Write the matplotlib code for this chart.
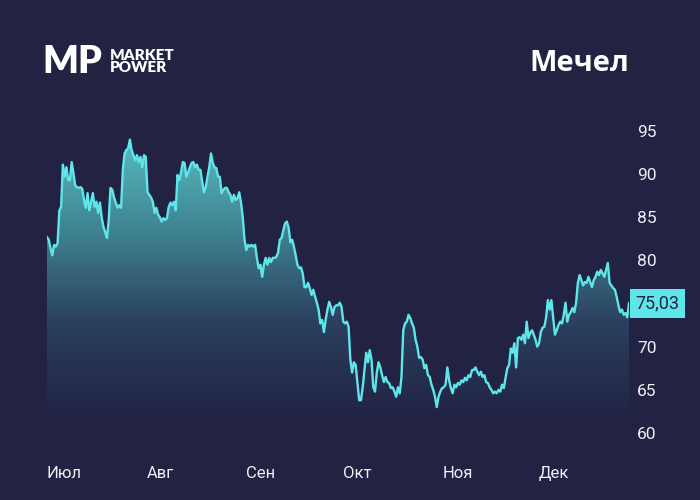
import numpy as np
import pandas as pd
import matplotlib
matplotlib.use("Agg")
import matplotlib.pyplot as plt
from matplotlib.colors import LinearSegmentedColormap

# ---- data ----
prices = [
    82.7, 82.4, 81.4, 80.6, 81.8, 81.6, 82.0, 85.8, 86.2, 91.1, 89.7, 90.8, 89.3, 89.3, 91.4, 90.1,
    88.7, 88.5, 88.4, 88.5, 88.3, 87.0, 86.1, 87.8, 85.8, 86.8, 87.8, 86.2, 86.8, 85.5, 86.7, 85.0,
    83.9, 83.3, 82.6, 84.7, 88.4, 88.2, 87.3, 86.7, 86.1, 86.4, 86.1, 90.5, 92.4, 92.8, 93.0, 94.0,
    92.8, 92.2, 91.6, 92.2, 91.4, 92.0, 90.8, 92.2, 92.0, 87.9, 87.6, 87.3, 86.8, 85.5, 86.1, 85.3,
    85.0, 84.5, 84.9, 84.7, 84.9, 86.2, 86.7, 86.4, 86.8, 85.8, 89.9, 89.3, 90.2, 91.4,
    # August-September
    91.3, 89.7, 90.2, 90.8, 91.3, 91.4, 90.8, 91.1, 90.5, 90.5, 89.1, 87.9, 88.5, 89.7, 90.8, 92.4,
    91.3, 90.8, 90.7, 89.7, 89.7, 87.8, 88.2, 88.4, 88.4, 87.9, 87.6, 86.8, 87.6, 87.0, 87.2, 87.9,
    86.7, 85.0, 82.4, 81.2, 81.8, 81.6, 81.8, 81.6, 81.8, 80.3, 79.1, 79.5, 78.1, 79.5, 80.3, 79.5,
    80.3, 79.8, 80.3, 80.3, 80.4, 80.9, 82.4, 82.6, 83.5, 84.3, 84.5, 83.8, 82.1, 82.4, 81.6, 80.6,
    79.5, 79.1, 79.2, 78.5, 76.9, 76.9, 77.4, 76.8, 76.0, 76.6, 75.8, 75.1, 74.3, 72.7, 73.1, 71.7,
    73.1,
    # October-November
    74.3, 75.2, 74.6, 73.7, 74.6, 74.8, 74.8, 75.1, 74.6, 72.9, 72.7, 72.9, 72.3, 68.5, 67.0, 68.2,
    67.9, 65.8, 63.8, 63.8, 65.3, 67.3, 69.3, 68.2, 69.6, 68.5, 65.3, 64.8, 67.0, 68.2, 67.6, 66.7,
    65.9, 66.5, 65.9, 65.8, 65.2, 65.3, 64.8, 64.2, 65.3, 64.6, 66.5, 71.9, 72.7, 72.9, 73.7, 73.3,
    72.7, 72.2, 70.8, 70.0, 68.7, 68.8, 68.5, 67.5, 67.9, 66.7, 66.5, 65.6, 65.0, 64.2, 63.0, 64.2,
    64.8, 65.2, 65.3, 65.6, 67.6, 66.1, 65.2, 64.6, 65.6, 65.3, 65.8, 65.6, 66.1, 65.9, 66.4, 66.1,
    66.7, 66.5, 67.3, 67.3, 67.6,
    # November-December
    67.1, 66.7, 67.1, 66.5, 66.7, 65.9, 65.8, 65.3, 65.0, 64.6, 64.8, 64.6, 65.0, 64.8, 65.6, 65.2,
    66.4, 67.5, 67.9, 69.8, 69.3, 70.4, 67.6, 71.0, 71.1, 70.8, 71.4, 70.4, 72.9, 71.0, 71.6, 71.9,
    71.4, 70.8, 70.0, 70.4, 71.7, 72.2, 72.3, 73.4, 75.4, 74.3, 75.4, 73.4, 71.4, 71.9, 72.5, 72.9,
    72.7, 73.7, 75.1, 72.9, 73.7, 74.0, 74.5, 74.0, 75.1, 77.4, 78.3, 77.7, 77.1, 77.5, 77.4, 78.1,
    77.5, 76.9, 77.7, 78.1, 78.7, 78.3, 78.9, 78.5, 78.1, 78.9, 79.7, 77.4, 77.1, 76.8, 76.6, 75.8,
    74.8, 74.0, 74.3, 73.7, 73.9, 73.4, 75.03,
]
start_date = "2025-07-01"
end_date = "2025-12-29"
month_labels = ["Июл", "Авг", "Сен", "Окт", "Ноя", "Дек"]
y_ticks = [60, 65, 70, 80, 85, 90, 95]
last_value = 75.03
title = "Мечел"

# ---- style ----
BG = "#222243"
LINE = "#5fe6ea"
TOP = "#5abfc3"
TEXT = "#eeeef5"

dates = pd.date_range(start_date, end_date, periods=len(prices))
x = matplotlib.dates.date2num(dates)
y = np.array(prices)

fig = plt.figure(figsize=(7, 5), dpi=100, facecolor=BG)
ax = fig.add_axes([47 / 700, 1 - 433 / 500, (629 - 47) / 700, (433 - 131) / 500])
ax.set_facecolor(BG)
ax.set_xlim(x[0], x[-1])
ax.set_ylim(60, 95)

# gradient fill under line
cmap = LinearSegmentedColormap.from_list("g", [BG, "#2b3f5e", "#3f8593", TOP])
poly = ax.fill_between(x, y, 60, color="none", lw=0)
grad = np.linspace(0, 1, 256).reshape(-1, 1)
grad = np.clip((grad - 0.04) / 0.96, 0, 1)
im = ax.imshow(grad, cmap=cmap, aspect="auto", origin="lower",
               extent=[x[0], x[-1], 60, 95], zorder=1)
path = poly.get_paths()[0]
im.set_clip_path(path, transform=ax.transData)
ax.plot(x, y, color=LINE, lw=1.7, zorder=3, solid_joinstyle="round")

for s in ax.spines.values():
    s.set_visible(False)

ax.yaxis.tick_right()
ax.set_yticks(y_ticks)
ax.set_yticklabels([str(t) for t in y_ticks])
ax.tick_params(axis="y", length=0, pad=6, labelsize=12.5, labelcolor=TEXT)
for lbl in ax.get_yticklabels():
    lbl.set_fontfamily(["Roboto", "DejaVu Sans"])

month_pos = matplotlib.dates.date2num(pd.date_range(start_date, periods=6, freq="MS"))
ax.set_xticks(month_pos)
ax.set_xticklabels(month_labels)
ax.tick_params(axis="x", length=0, pad=24, labelsize=12, labelcolor=TEXT)
for lbl in ax.get_xticklabels():
    lbl.set_horizontalalignment("left")
    lbl.set_fontfamily(["Roboto", "DejaVu Sans"])

# last value box
trans = matplotlib.transforms.blended_transform_factory(ax.transAxes, ax.transData)
ax.text(1.011, last_value, f"{last_value:.2f}".replace(".", ","), transform=trans,
        ha="left", va="center", fontsize=13, color=BG, family=["Roboto", "DejaVu Sans"],
        bbox=dict(boxstyle="square,pad=0.3", fc=LINE, ec="none"), zorder=5)

# logo and title
fig.text(42 / 700, 1 - 73 / 500, "MP", fontsize=27, fontweight="heavy", color="white",
         family=["Lato", "DejaVu Sans"], ha="left", va="baseline")
fig.text(110 / 700, 1 - 60 / 500, "MARKET", fontsize=11, fontweight="heavy", color="white",
         family=["Lato", "DejaVu Sans"], ha="left", va="baseline")
fig.text(110 / 700, 1 - 72 / 500, "POWER", fontsize=11, fontweight="heavy", color="white",
         family=["Lato", "DejaVu Sans"], ha="left", va="baseline")
fig.text(629 / 700, 1 - 71 / 500, title, fontsize=21, fontweight="bold", color="white",
         family=["Open Sans", "DejaVu Sans"], ha="right", va="baseline")

fig.savefig("out.png", dpi=100, facecolor=BG)
